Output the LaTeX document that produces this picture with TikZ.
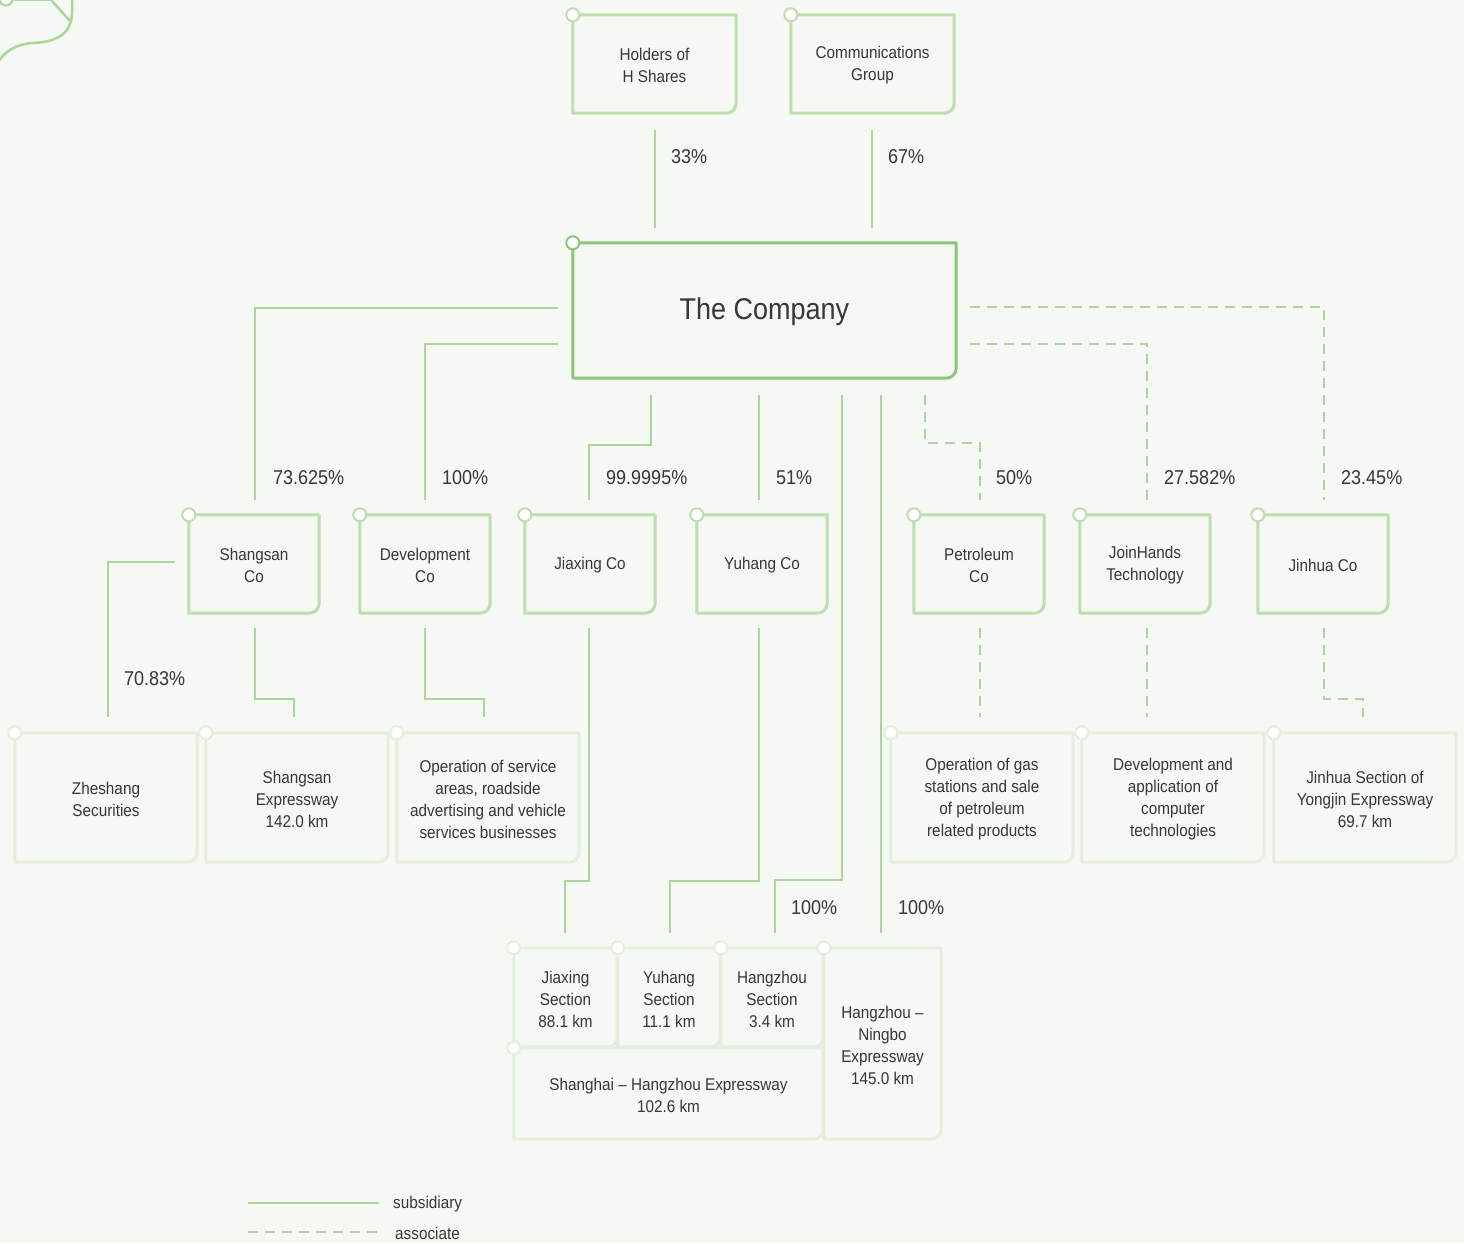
\documentclass[tikz,border=0pt]{standalone}
\usepackage{fontspec}
\setmainfont[FakeStretch=0.9]{Liberation Sans}
\usetikzlibrary{calc}
\definecolor{bgc}{HTML}{F6F8F3}
\definecolor{linec}{HTML}{A9D69A}
\definecolor{boxA}{HTML}{BDDFB0}
\definecolor{boxC}{HTML}{8BC77A}
\definecolor{boxL}{HTML}{E3EFDC}
\definecolor{txtc}{HTML}{3A3536}
\tikzset{
  x=1pt, y=1pt,
  txt/.style={font=\fontsize{17}{22}\selectfont, text=txtc, align=center, inner sep=0pt},
  pct/.style={font=\fontsize{20}{24}\selectfont, text=txtc, inner sep=0pt, anchor=west},
  sub/.style={draw=linec, line width=1.4pt},
  asc/.style={draw=linec, line width=1.4pt, dash pattern=on 10pt off 7pt},
  bA/.style={draw=boxA, line width=3pt},
  bC/.style={draw=boxC, line width=3pt},
  bL/.style={draw=boxL, line width=3pt},
  deco/.style={draw=linec, line width=2.5pt},
  knob/.style={fill=white, line width=2pt},
}
% #1 extra node opts, #2 name, #3 x1, #4 y1, #5 x2, #6 y2 (pixels, y down), #7 border style, #8 text
\newcommand\obox[8][]{%
  \node[txt, minimum width={#5-#3}, minimum height={#6-#4}, #1] (#2) at ({(#3+#5)/2},{-(#4+#6)/2-1.5}) {#8};
  \draw[#7, line join=round] ([yshift=1.5pt]#2.north west) -- ([yshift=1.5pt]#2.north east) -- ([yshift=11.5pt]#2.south east)
    arc[start angle=0, end angle=-90, radius=10pt] -- ([yshift=1.5pt]#2.south west) -- cycle;
}
\newcommand\knobat[2]{\draw[#2, knob] ([yshift=1.5pt]#1.north west) circle[radius=6.5pt];}
\begin{document}
\begin{tikzpicture}
\fill[bgc] (0,0) rectangle (1464,-1243);
\useasboundingbox (0,0) rectangle (1464,-1243);

% decoration top left
\draw[deco] (14,0) -- (52,0);
\draw[deco] (52,-1) -- (70,-21);
\draw[deco] (72,2) -- (72,-12) .. controls (72,-35) and (55,-42) .. (33,-43) .. controls (15,-44) and (5,-52) .. (-2,-62);
\draw[deco, fill=white, line width=2pt] (6,1) circle[radius=6.5pt];

% level 0
\obox{holders}{573}{15}{736}{113}{bA}{Holders of\\H Shares}
\obox{comm}{791}{15}{954}{113}{bA}{Communications\\Group}
% company
\obox[font=\fontsize{30}{36}\selectfont]{company}{573}{243}{956}{378}{bC}{The Company}

% level 2
\obox{shangsan}{189}{515}{319}{613}{bA}{Shangsan\\Co}
\obox{devco}{360}{515}{490}{613}{bA}{Development\\Co}
\obox{jiaxco}{525}{515}{655}{613}{bA}{Jiaxing Co}
\obox{yuhco}{697}{515}{827}{613}{bA}{Yuhang Co}
\obox{petco}{914}{515}{1044}{613}{bA}{Petroleum\\Co}
\obox{jhco}{1080}{515}{1210}{613}{bA}{JoinHands\\Technology}
\obox{jinco}{1258}{515}{1388}{613}{bA}{Jinhua Co}

% level 3
\obox{zheshang}{15}{733}{197}{862}{bL}{Zheshang\\Securities}
\obox{ssexp}{206}{733}{388}{862}{bL}{Shangsan\\Expressway\\142.0 km}
\obox{opserv}{397}{733}{579}{862}{bL}{Operation of service\\areas, roadside\\advertising and vehicle\\services businesses}
\obox{gas}{891}{733}{1073}{862}{bL}{Operation of gas\\stations and sale\\of petroleum\\related products}
\obox{devapp}{1082}{733}{1264}{862}{bL}{Development and\\application of\\computer\\technologies}
\obox{jinsec}{1274}{733}{1456}{862}{bL}{Jinhua Section of\\Yongjin Expressway\\69.7 km}

% bottom cluster
\obox{shexp}{514}{1048}{823}{1139}{bL}{Shanghai \textendash\ Hangzhou Expressway\\102.6 km}
\obox{hnexp}{824}{948}{941}{1139}{bL}{Hangzhou \textendash\\Ningbo\\Expressway\\145.0 km}
\obox{jiaxsec}{514}{948}{617}{1047}{bL}{Jiaxing\\Section\\88.1 km}
\obox{yuhsec}{618}{948}{720}{1047}{bL}{Yuhang\\Section\\11.1 km}
\obox{hzsec}{721}{948}{823}{1047}{bL}{Hangzhou\\Section\\3.4 km}

% knobs
\foreach \n in {holders,comm,shangsan,devco,jiaxco,yuhco,petco,jhco,jinco}{\knobat{\n}{draw=boxA}}
\knobat{company}{draw=boxC}
\foreach \n in {zheshang,ssexp,opserv,gas,devapp,jinsec,shexp,hnexp,jiaxsec,yuhsec,hzsec}{\knobat{\n}{draw=boxL}}

% connectors: shareholders
\draw[sub] (655,-130) -- (655,-228);
\draw[sub] (872,-130) -- (872,-228);
\node[pct] (p33) at (671,-157) {33\%};
\node[pct] (p67) at (888,-157) {67\%};

% company -> level 2
\draw[sub] (558,-308) -| (255,-500);
\draw[sub] (558,-344) -| (425,-500);
\draw[sub] (651,-395) |- (589,-445) -- (589,-500);
\draw[sub] (759,-395) -- (759,-500);
\draw[sub] (842,-395) |- (775,-880) -- (775,-933);
\draw[sub] (881,-395) -- (881,-933);
\draw[asc] (925,-395) |- (980,-443) -- (980,-500);
\draw[asc] (970,-344) -| (1147,-500);
\draw[asc] (970,-307) -| (1324,-500);

\node[pct] (p1) at (273,-478) {73.625\%};
\node[pct] (p2) at (442,-478) {100\%};
\node[pct] (p3) at (606,-478) {99.9995\%};
\node[pct] (p4) at (776,-478) {51\%};
\node[pct] (p5) at (996,-478) {50\%};
\node[pct] (p6) at (1164,-478) {27.582\%};
\node[pct] (p7) at (1341,-478) {23.45\%};
\node[pct] (p8) at (124,-679) {70.83\%};
\node[pct] (p9) at (791,-908) {100\%};
\node[pct] (p10) at (898,-908) {100\%};

% level 2 -> level 3
\draw[sub] (175,-562) -| (108,-717);
\draw[sub] (255,-628) |- (294,-699) -- (294,-717);
\draw[sub] (425,-628) |- (484,-699) -- (484,-717);
\draw[sub] (589,-628) |- (565,-881) -- (565,-933);
\draw[sub] (759,-628) |- (670,-881) -- (670,-933);
\draw[asc] (980,-628) -- (980,-717);
\draw[asc] (1147,-628) -- (1147,-717);
\draw[asc] (1324,-628) |- (1363,-699) -- (1363,-717);

% legend
\coordinate (ls1) at (248,-1203);
\coordinate (ls2) at (379,-1203);
\coordinate (la1) at (248,-1232);
\coordinate (la2) at (379,-1232);
\draw[sub] (ls1) -- (ls2);
\draw[asc] (la1) -- (la2);
\node[txt, anchor=west] (lsub) at (393,-1204) {subsidiary};
\node[txt, anchor=west] (lasc) at (395,-1233) {associate};
\end{tikzpicture}
\end{document}
